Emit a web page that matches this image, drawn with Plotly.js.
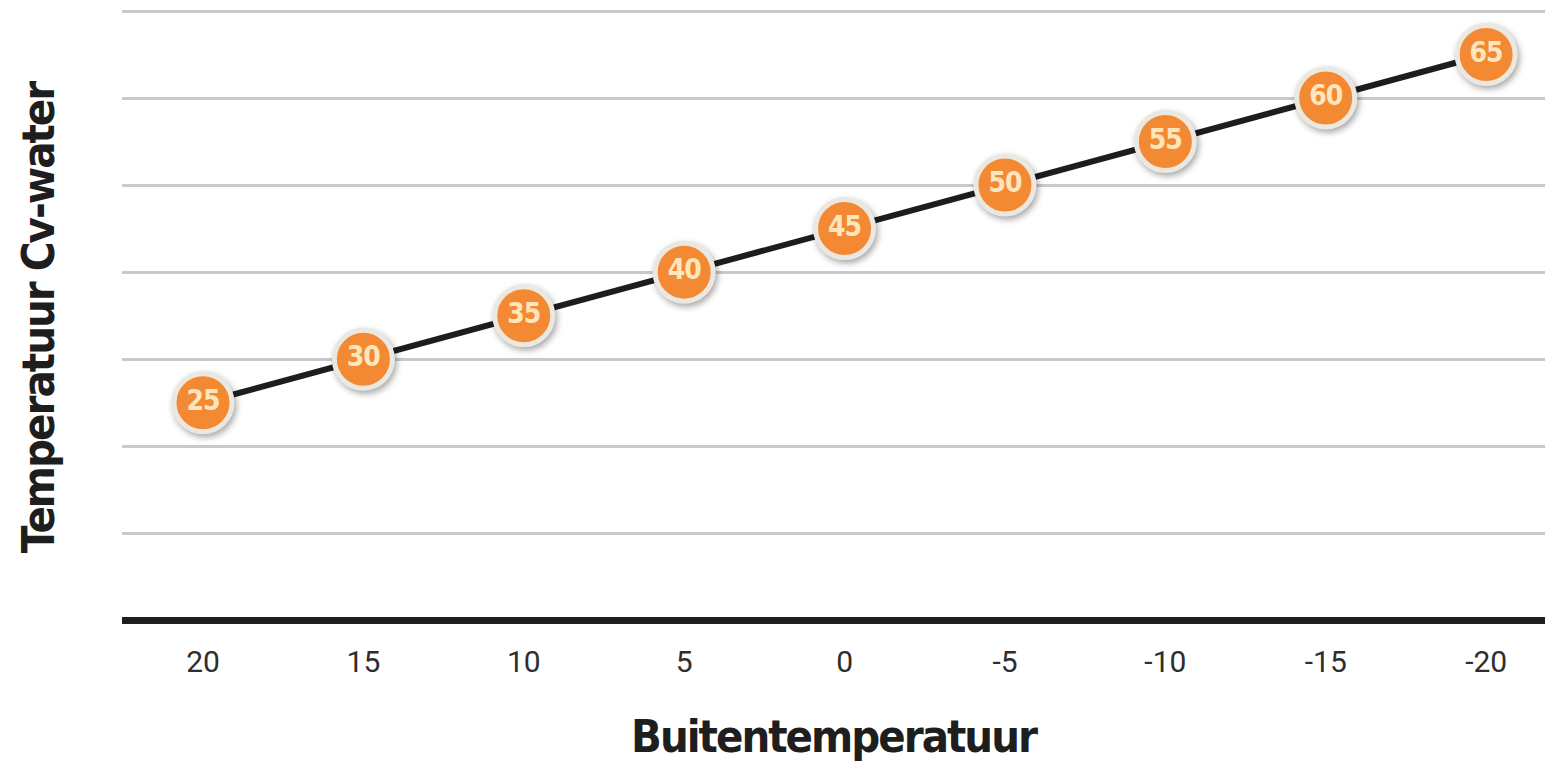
<!DOCTYPE html>
<html>
<head>
<meta charset="utf-8">
<script src="https://cdn.plot.ly/plotly-3.0.1.min.js"></script>
<style>
  html, body { margin: 0; padding: 0; background: #ffffff; }
  #chart { width: 1545px; height: 764px; }
  /* soft shadow under the round value badges */
  #chart .scatterlayer path.point { filter: drop-shadow(2px 3px 3px rgba(0,0,0,0.35)); }
  /* tighter tracking for the condensed axis titles */
  #chart text.xtitle, #chart text.ytitle { letter-spacing: -2px; }
  #chart .scatterlayer text { letter-spacing: -1px; }
</style>
</head>
<body>
<div id="chart"></div>
<script>
// Outdoor temperature (°C) and the matching heating-water temperature (°C)
const buitentemperatuur = ["20", "15", "10", "5", "0", "-5", "-10", "-15", "-20"];
const cvWaterTemperatuur = [25, 30, 35, 40, 45, 50, 55, 60, 65];
const yTicks = [0, 10, 20, 30, 40, 50, 60, 70];

const titleFont = "'DejaVu Sans Condensed', sans-serif";

const stooklijn = {
  type: "scatter",
  mode: "lines+markers+text",
  x: buitentemperatuur,
  y: cvWaterTemperatuur,
  text: cvWaterTemperatuur.map(String),
  textposition: "middle center",
  textfont: { family: titleFont, size: 28, color: "#fde6bc", weight: "bold" },
  line: { color: "#1d1d1d", width: 6 },
  marker: {
    size: 58,
    color: "#f38a33",
    line: { color: "#ebe8e1", width: 5 }
  },
  cliponaxis: false,
  hoverinfo: "skip"
};

const layout = {
  width: 1545,
  height: 764,
  margin: { l: 122, r: 0, t: 7, b: 135 },
  paper_bgcolor: "#ffffff",
  plot_bgcolor: "#ffffff",
  showlegend: false,
  xaxis: {
    type: "category",
    range: [-0.505, 8.367],
    showgrid: false,
    zeroline: false,
    showline: false,
    ticks: "",
    ticklabelstandoff: 12,
    tickfont: { family: "Roboto, sans-serif", size: 30, color: "#2e2e2e" },
    title: {
      text: "Buitentemperatuur",
      font: { family: titleFont, size: 45, color: "#1e1e1e", weight: "bold" },
      standoff: 42
    }
  },
  yaxis: {
    range: [-1, 70.46],
    tickvals: yTicks,
    showticklabels: false,
    ticks: "",
    showgrid: true,
    gridcolor: "#c9c9c9",
    gridwidth: 3,
    zeroline: true,
    zerolinecolor: "#1e1e1e",
    zerolinewidth: 7,
    showline: false,
    title: {
      text: "Temperatuur Cv-water",
      font: { family: titleFont, size: 45, color: "#1e1e1e", weight: "bold" },
      standoff: 52
    }
  }
};

Plotly.newPlot("chart", [stooklijn], layout, { staticPlot: true, displayModeBar: false });
</script>
</body>
</html>
